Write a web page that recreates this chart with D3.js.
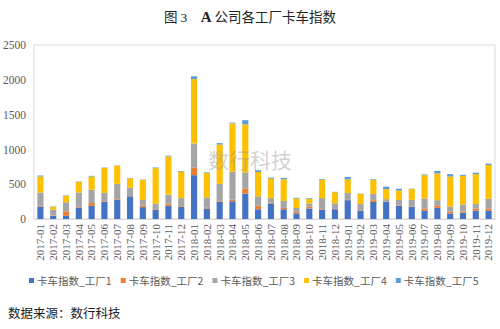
<!DOCTYPE html>
<html>
<head>
<meta charset="utf-8">
<script src="https://cdn.jsdelivr.net/npm/d3@7/dist/d3.min.js"></script>
<style>
  html, body { margin: 0; padding: 0; background: #fff; }
  svg { display: block; }
</style>
</head>
<body>
<div id="chart"></div>
<script>
// Monthly truck index per factory, stacked
const months = [
  "2017-01","2017-02","2017-03","2017-04","2017-05","2017-06","2017-07","2017-08","2017-09","2017-10","2017-11","2017-12",
  "2018-01","2018-02","2018-03","2018-04","2018-05","2018-06","2018-07","2018-08","2018-09","2018-10","2018-11","2018-12",
  "2019-01","2019-02","2019-03","2019-04","2019-05","2019-06","2019-07","2019-08","2019-09","2019-10","2019-11","2019-12"
];
const seriesNames = ["卡车指数_工厂1","卡车指数_工厂2","卡车指数_工厂3","卡车指数_工厂4","卡车指数_工厂5"];
const factory1 = [180,45,45,165,190,245,275,325,170,130,190,175, 630,150,245,255,365,140,225,140,80,150,130,140, 270,120,245,245,190,175,120,160,80,90,120,120];
const factory2 = [10,5,65,10,40,10,10,5,25,10,30,10, 110,10,10,25,70,50,10,20,25,25,10,5, 5,5,25,5,5,5,30,30,25,20,30,30];
const factory3 = [190,85,130,205,190,120,220,120,80,80,130,115, 345,150,250,400,235,135,65,100,55,50,160,80, 100,90,90,35,80,95,145,80,75,100,65,140];
const factory4 = [230,40,95,155,190,360,260,135,285,510,550,380, 925,350,565,695,690,350,280,310,135,65,265,160, 195,145,200,145,135,155,335,385,430,410,430,485];
const factory5 = [15,5,5,5,10,5,5,5,5,10,10,10, 40,10,20,10,60,25,15,20,10,10,10,5, 35,5,10,35,25,5,10,35,35,15,20,20];
const yTicks = [0,500,1000,1500,2000,2500];
const colors = ["#4472C4","#ED7D31","#A5A5A5","#FFC000","#5B9BD5"];

const W = 500, H = 329;
const margin = { left: 34, right: 5, top: 45, bottom: 110 };
const plotW = W - margin.left - margin.right;
const plotH = H - margin.top - margin.bottom;

const rows = months.map((m, i) => ({
  month: m,
  s0: factory1[i], s1: factory2[i], s2: factory3[i], s3: factory4[i], s4: factory5[i]
}));
const keys = ["s0","s1","s2","s3","s4"];
const stacked = d3.stack().keys(keys)(rows);

const svg = d3.select("#chart").append("svg")
  .attr("width", W).attr("height", H);

// Title
svg.append("text")
  .attr("x", 250).attr("y", 22)
  .attr("text-anchor", "middle")
  .attr("font-family", "'Noto Sans CJK SC', sans-serif")
  .attr("font-size", 13.5)
  .attr("fill", "#222")
  .call(t => {
    t.append("tspan").text("图 ");
    t.append("tspan").attr("font-family", "'Liberation Serif', serif").text("3");
    t.append("tspan").text("　");
    t.append("tspan").attr("font-family", "'Liberation Serif', serif").attr("font-weight", "bold").attr("font-size", 15).text("A ");
    t.append("tspan").text("公司各工厂卡车指数");
  });

const g = svg.append("g").attr("transform", `translate(${margin.left},${margin.top})`);

const x = d3.scaleBand().domain(months).range([0, plotW]).paddingInner(0.52).paddingOuter(0.26);
const y = d3.scaleLinear().domain([0, 2500]).range([plotH, 0]);

// Plot frame
g.append("rect")
  .attr("x", 0).attr("y", 0).attr("width", plotW).attr("height", plotH)
  .attr("fill", "none").attr("stroke", "#D9D9D9").attr("stroke-width", 1);

// Stacked bars
g.selectAll("g.layer").data(stacked).join("g")
  .attr("class", "layer")
  .attr("fill", (d, i) => colors[i])
  .selectAll("rect").data(d => d).join("rect")
  .attr("x", d => x(d.data.month))
  .attr("width", x.bandwidth())
  .attr("y", d => y(d[1]))
  .attr("height", d => y(d[0]) - y(d[1]));

// Y axis
const yAxis = g.append("g")
  .call(d3.axisLeft(y).tickValues(yTicks).tickSize(0).tickPadding(8).tickFormat(d3.format("d")));
yAxis.select(".domain").remove();
yAxis.selectAll("text")
  .attr("font-family", "'Liberation Serif', serif")
  .attr("font-size", 11.5)
  .attr("fill", "#595959");

// X axis with rotated month labels
const xAxis = g.append("g").attr("transform", `translate(0,${plotH})`)
  .call(d3.axisBottom(x).tickSize(0).tickPadding(0));
xAxis.select(".domain").attr("stroke", "#D9D9D9");
xAxis.selectAll("text")
  .attr("font-family", "'Liberation Serif', serif")
  .attr("font-size", 11)
  .attr("fill", "#595959")
  .attr("text-anchor", "end")
  .attr("dy", "0.35em")
  .attr("transform", "translate(0,5) rotate(-90)")
  .attr("x", 0).attr("y", 0);

// Watermark
svg.append("text")
  .attr("x", 250).attr("y", 168)
  .attr("text-anchor", "middle")
  .attr("font-family", "'Noto Sans CJK SC', sans-serif")
  .attr("font-size", 21)
  .attr("fill", "#9a9a9a")
  .attr("fill-opacity", 0.45)
  .text("数行科技");

// Legend
const legend = svg.append("g").attr("transform", "translate(29,281)");
const item = legend.selectAll("g").data(seriesNames).join("g")
  .attr("transform", (d, i) => `translate(${i * 91.7},0)`);
item.append("rect")
  .attr("x", 0).attr("y", -3).attr("width", 5).attr("height", 5)
  .attr("fill", (d, i) => colors[i]);
item.append("text")
  .attr("x", 8).attr("y", 0).attr("dy", "0.35em")
  .attr("font-family", "'Noto Sans CJK SC', sans-serif")
  .attr("font-size", 10.5)
  .attr("fill", "#595959")
  .text(d => d);

// Source note
svg.append("text")
  .attr("x", 8).attr("y", 318)
  .attr("font-family", "'Noto Sans CJK SC', sans-serif")
  .attr("font-size", 12.5)
  .attr("fill", "#222")
  .text("数据来源：数行科技");
</script>
</body>
</html>
